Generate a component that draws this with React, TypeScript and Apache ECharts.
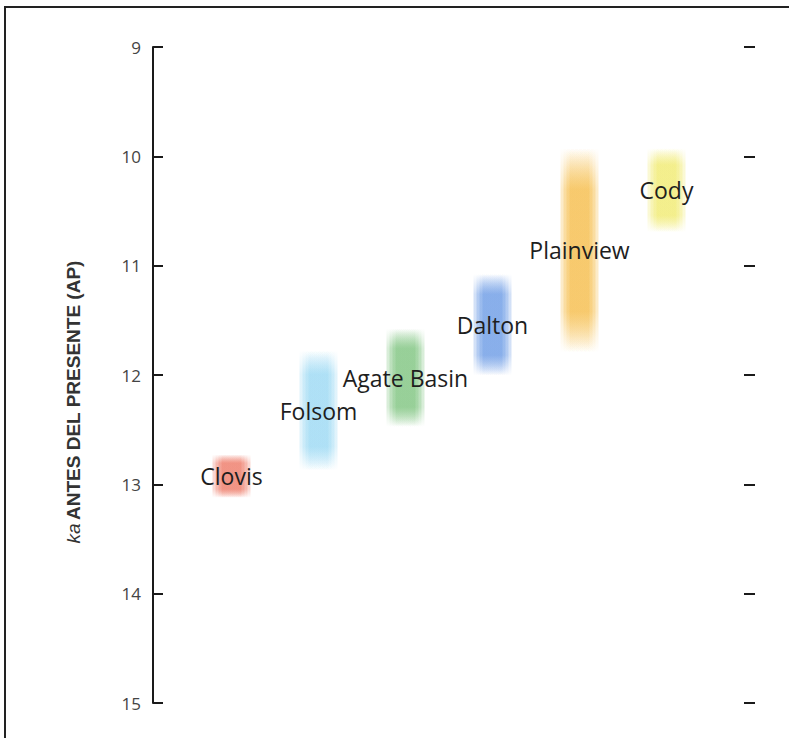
import React, { useEffect, useRef } from "react";
import * as echarts from "echarts";

const cultures = ["Clovis", "Folsom", "Agate Basin", "Dalton", "Plainview", "Cody"];
const olderKa = [13.05, 12.8, 12.4, 11.93, 11.72, 10.62];
const youngerKa = [12.8, 11.85, 11.65, 11.15, 10.0, 10.0];
const cultureColors = ["#ec6a55", "#8fd4f2", "#6fbd70", "#5a8fe2", "#f4b534", "#efe860"];
const yTicks = [9, 10, 11, 12, 13, 14, 15];

function hexA(hex: string, a: number) {
  const r = parseInt(hex.slice(1, 3), 16);
  const g = parseInt(hex.slice(3, 5), 16);
  const b = parseInt(hex.slice(5, 7), 16);
  return `rgba(${r},${g},${b},${a})`;
}

export default function App() {
  const ref = useRef<HTMLDivElement>(null);
  useEffect(() => {
    if (!ref.current) return;
    const chart = echarts.init(ref.current, undefined, { renderer: "svg" });
    const data = cultures.map((c, i) => [i, olderKa[i], youngerKa[i]]);
    chart.setOption({
      animation: false,
      backgroundColor: "#ffffff",
      grid: { left: 188, right: 79, top: 47, bottom: 35 },
      xAxis: {
        type: "category",
        data: cultures,
        show: false,
      },
      yAxis: [
        {
          type: "value",
          inverse: true,
          min: yTicks[0],
          max: yTicks[yTicks.length - 1],
          interval: 1,
          offset: 35,
          axisLine: { show: true, lineStyle: { color: "#1a1a1a", width: 2 } },
          axisTick: { show: true, inside: true, length: 10, lineStyle: { color: "#1a1a1a", width: 2 } },
          axisLabel: { color: "#444", fontSize: 17, fontFamily: "Open Sans", margin: 12 },
          splitLine: { show: false },
        },
        {
          type: "value",
          inverse: true,
          position: "right",
          min: yTicks[0],
          max: yTicks[yTicks.length - 1],
          interval: 1,
          offset: 34,
          axisLine: { show: false },
          axisTick: { show: true, length: 11, lineStyle: { color: "#1a1a1a", width: 2 } },
          axisLabel: { show: false },
          splitLine: { show: false },
        },
      ],
      graphic: [
        {
          type: "rect",
          shape: { x: 5, y: 7, width: 820, height: 820 },
          style: { fill: "none", stroke: "#222", lineWidth: 2 },
          silent: true,
        },
        {
          type: "text",
          x: 73,
          y: 402,
          rotation: Math.PI / 2,
          style: {
            text: "{i|ka} {b|ANTES DEL PRESENTE (AP)}",
            align: "center",
            verticalAlign: "middle",
            rich: {
              i: { fontStyle: "italic", fontSize: 19, fontFamily: "Liberation Sans", fill: "#333" },
              b: { fontWeight: "bold", fontSize: 19, fontFamily: "Liberation Sans", fill: "#333" },
            },
          },
        },
      ],
      series: [
        {
          type: "custom",
          data,
          renderItem: (params: any, api: any) => {
            const idx = api.value(0);
            const p0 = api.coord([idx, api.value(1)]);
            const p1 = api.coord([idx, api.value(2)]);
            const color = cultureColors[idx];
            const cx = p0[0];
            const yTop = Math.min(p0[1], p1[1]);
            const yBot = Math.max(p0[1], p1[1]);
            const h = yBot - yTop;
            const widths = [38, 32, 26, 20];
            const rects = widths.map((w) => ({
              type: "rect",
              shape: { x: cx - w / 2, y: yTop - 8, width: w, height: h + 16 },
              style: {
                fill: new echarts.graphic.LinearGradient(0, 0, 0, 1, [
                  { offset: 0, color: hexA(color, 0) },
                  { offset: 0.2, color: hexA(color, 0.27) },
                  { offset: 0.8, color: hexA(color, 0.27) },
                  { offset: 1, color: hexA(color, 0) },
                ]),
              },
            }));
            return {
              type: "group",
              children: [
                ...rects,
                {
                  type: "text",
                  x: cx,
                  y: (yTop + yBot) / 2,
                  style: {
                    text: cultures[idx],
                    fill: "#1e1e1e",
                    fontSize: 23,
                    fontFamily: "Open Sans",
                    align: "center",
                    verticalAlign: "middle",
                  },
                },
              ],
            };
          },
        },
      ],
    });
    return () => chart.dispose();
  }, []);
  return (
    <div
      ref={ref}
      style={{ position: "fixed", left: 0, top: 0, width: 789, height: 738 }}
    />
  );
}
